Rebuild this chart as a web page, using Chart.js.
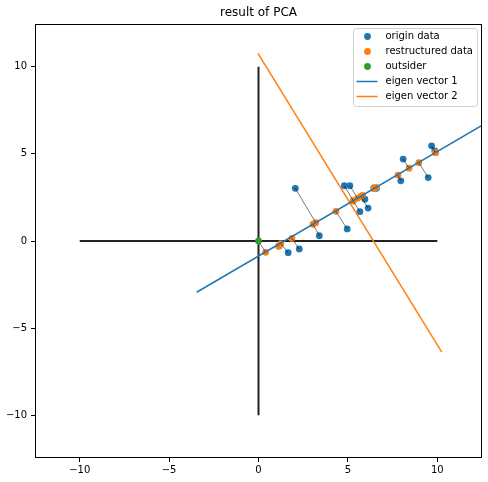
<!DOCTYPE html>
<html>
<head>
<meta charset="utf-8">
<script src="https://cdn.jsdelivr.net/npm/chart.js@4/dist/chart.umd.min.js"></script>
<style>
  html, body { margin: 0; padding: 0; background: #fff; }
  canvas { display: block; }
</style>
</head>
<body>
<canvas id="pca" width="488" height="482"></canvas>
<script>
(function () {
  "use strict";

  // Data
  const originX = [2.06, 3.40, 1.66, 2.28, 1.15, 4.80, 5.11, 4.96, 5.67, 6.13, 5.95, 6.45, 6.60, 8.09, 7.96, 9.49, 9.68, 9.86];
  const originY = [3.02, 0.30, -0.67, -0.46, -0.28, 3.17, 3.17, 0.69, 1.68, 1.89, 2.40, 3.05, 3.02, 4.70, 3.45, 3.64, 5.46, 5.17];
  const restructX = [3.20, 3.05, 1.25, 1.87, 1.12, 5.30, 5.54, 4.33, 5.29, 5.72, 5.82, 6.45, 6.58, 8.42, 7.80, 8.97, 9.90, 9.91];
  const restructY = [1.05, 0.96, -0.15, 0.15, -0.30, 2.31, 2.45, 1.70, 2.30, 2.56, 2.62, 3.00, 3.08, 4.18, 3.78, 4.49, 5.07, 5.08];
  const outsiderX = [0];
  const outsiderY = [0];
  const outsiderProjX = [0.40];
  const outsiderProjY = [-0.65];
  const eig1X = [-3.46, 13.68];
  const eig1Y = [-2.94, 7.34];
  const eig2X = [-0.03, 10.25];
  const eig2Y = [10.77, -6.37];
  const crossHX = [-10, 10];
  const crossHY = [0, 0];
  const crossVX = [0, 0];
  const crossVY = [-10, 10];
  const tickVals = [-10, -5, 0, 5, 10];

  const legendItems = [
    { label: 'origin data', color: '#1f77b4', kind: 'dot' },
    { label: 'restructured data', color: '#ff7f0e', kind: 'dot' },
    { label: 'outsider', color: '#2ca02c', kind: 'dot' },
    { label: 'eigen vector 1', color: '#1f77b4', kind: 'line' },
    { label: 'eigen vector 2', color: '#ff7f0e', kind: 'line' }
  ];

  const FONT = '"DejaVu Sans", sans-serif';

  function pts(xs, ys) {
    return xs.map(function (x, i) { return { x: x, y: ys[i] }; });
  }
  function lineSet(xs, ys, color, width) {
    return {
      data: pts(xs, ys),
      showLine: true,
      borderColor: color,
      borderWidth: width,
      pointRadius: 0,
      pointHoverRadius: 0,
      fill: false
    };
  }
  function dotSet(xs, ys, color) {
    return {
      data: pts(xs, ys),
      backgroundColor: color,
      borderColor: color,
      borderWidth: 0,
      pointRadius: 3.4,
      pointHoverRadius: 3.4
    };
  }

  // first dataset is drawn on top
  const datasets = [];
  datasets.push(dotSet(outsiderX, outsiderY, '#2ca02c'));
  datasets.push(lineSet(eig1X, eig1Y, '#1f77b4', 1.5));
  datasets.push(lineSet(eig2X, eig2Y, '#ff7f0e', 1.5));
  for (let i = 0; i < originX.length; i++) {
    datasets.push(lineSet([originX[i], restructX[i]], [originY[i], restructY[i]], 'rgba(0,0,0,0.75)', 0.7));
  }
  datasets.push(lineSet([outsiderX[0], outsiderProjX[0]], [outsiderY[0], outsiderProjY[0]], 'rgba(0,0,0,0.75)', 0.7));
  datasets.push(dotSet(restructX.concat(outsiderProjX), restructY.concat(outsiderProjY), '#ff7f0e'));
  datasets.push(dotSet(originX, originY, '#1f77b4'));
  datasets.push(lineSet(crossHX, crossHY, '#222', 2));
  datasets.push(lineSet(crossVX, crossVY, '#222', 2));

  const frameAndLegend = {
    id: 'frameAndLegend',
    afterDraw: function (chart) {
      const ctx = chart.ctx;
      const a = chart.chartArea;
      ctx.save();
      // axes frame
      ctx.strokeStyle = '#000';
      ctx.lineWidth = 1;
      ctx.strokeRect(a.left + 0.5, a.top + 0.5, a.right - a.left - 1, a.bottom - a.top - 1);

      // title
      ctx.fillStyle = '#000';
      ctx.font = '12px ' + FONT;
      ctx.textAlign = 'center';
      ctx.textBaseline = 'middle';
      ctx.fillText('result of PCA', (a.left + a.right) / 2, 13);

      // legend box
      const bx = 353.5, by = 28.5, bw = 124, bh = 78;
      ctx.beginPath();
      ctx.roundRect(bx, by, bw, bh, 3);
      ctx.fillStyle = 'rgba(255,255,255,0.8)';
      ctx.fill();
      ctx.strokeStyle = '#d0d0d0';
      ctx.lineWidth = 1;
      ctx.stroke();

      ctx.font = '10px ' + FONT;
      ctx.textAlign = 'left';
      ctx.textBaseline = 'middle';
      legendItems.forEach(function (item, i) {
        const y = 36.5 + i * 15;
        if (item.kind === 'dot') {
          ctx.beginPath();
          ctx.arc(367.5, y, 3.4, 0, Math.PI * 2);
          ctx.fillStyle = item.color;
          ctx.fill();
        } else {
          ctx.beginPath();
          ctx.moveTo(356.5, y);
          ctx.lineTo(377.5, y);
          ctx.strokeStyle = item.color;
          ctx.lineWidth = 1.5;
          ctx.stroke();
        }
        ctx.fillStyle = '#000';
        ctx.fillText(item.label, 385.5, y);
      });
      ctx.restore();
    }
  };

  function tickLabel(v) {
    return v < 0 ? '\u2212' + Math.abs(v) : String(v);
  }
  function setTicks(scale) {
    scale.ticks = tickVals.map(function (v) { return { value: v }; });
  }
  const tickFont = { family: FONT, size: 10 };

  new Chart(document.getElementById('pca').getContext('2d'), {
    type: 'scatter',
    data: { datasets: datasets },
    options: {
      responsive: false,
      animation: false,
      devicePixelRatio: 1,
      layout: { padding: { top: 24, right: 6, left: 0, bottom: 0 } },
      plugins: {
        legend: { display: false },
        tooltip: { enabled: false },
        title: { display: false }
      },
      scales: {
        x: {
          type: 'linear',
          min: -12.5,
          max: 12.5,
          afterBuildTicks: setTicks,
          afterFit: function (s) { s.height = 24; },
          border: { display: false },
          grid: { display: true, drawOnChartArea: false, drawTicks: true, tickLength: 4, color: '#000', tickWidth: 1 },
          ticks: { font: tickFont, color: '#000', padding: 2, maxRotation: 0, callback: tickLabel }
        },
        y: {
          type: 'linear',
          min: -12.45,
          max: 12.45,
          afterBuildTicks: setTicks,
          afterFit: function (s) { s.width = 35; },
          border: { display: false },
          grid: { display: true, drawOnChartArea: false, drawTicks: true, tickLength: 4, color: '#000', tickWidth: 1 },
          ticks: { font: tickFont, color: '#000', padding: 4, callback: tickLabel }
        }
      }
    },
    plugins: [frameAndLegend]
  });
})();
</script>
</body>
</html>
